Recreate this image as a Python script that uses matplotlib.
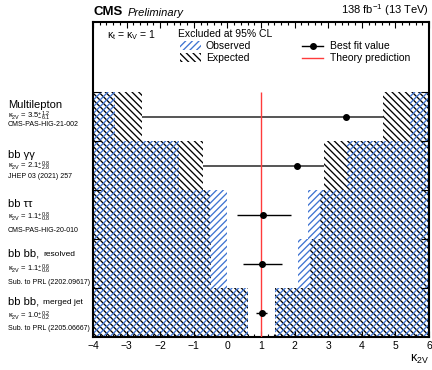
import matplotlib
matplotlib.use('Agg')
import matplotlib.pyplot as plt
from matplotlib.patches import Rectangle
from matplotlib.lines import Line2D
from matplotlib.ticker import MultipleLocator, NullFormatter
import matplotlib.transforms as mtransforms

plt.rcParams['font.family'] = ['Liberation Sans', 'DejaVu Sans']
plt.rcParams['mathtext.fontset'] = 'custom'
plt.rcParams['mathtext.rm'] = 'Liberation Sans'
plt.rcParams['mathtext.it'] = 'Liberation Sans:italic'
plt.rcParams['mathtext.bf'] = 'Liberation Sans:bold'
plt.rcParams['hatch.linewidth'] = 0.95

# ---- data (top row first) ----
analyses = ["Multilepton", "bb γγ", "bb ττ", "bb bb,", "bb bb,"]
subtags = ["", "", "", "resolved", "merged jet"]
kappa_labels = [
    r"κ$_{\mathrm{2V}}$ = 3.5$^{+1.2}_{-6.1}$",
    r"κ$_{\mathrm{2V}}$ = 2.1$^{+0.8}_{-2.8}$",
    r"κ$_{\mathrm{2V}}$ = 1.1$^{+0.8}_{-0.8}$",
    r"κ$_{\mathrm{2V}}$ = 1.1$^{+0.6}_{-0.6}$",
    r"κ$_{\mathrm{2V}}$ = 1.0$^{+0.2}_{-0.2}$",
]
references = ["CMS-PAS-HIG-21-002", "JHEP 03 (2021) 257", "CMS-PAS-HIG-20-010",
              "Sub. to PRL (2202.09617)", "Sub. to PRL (2205.06667)"]
best_fit = [3.52, 2.06, 1.07, 1.04, 1.02]
ci_lo = [-2.55, -0.74, 0.29, 0.47, 0.85]
ci_hi = [4.64, 2.88, 1.88, 1.63, 1.19]
obs_excl_lo = [-3.35, -1.43, 0.0, 0.0, 0.60]
obs_excl_hi = [5.42, 3.57, 2.41, 2.11, 1.42]
exp_excl_lo = [-2.53, -0.74, -0.52, -0.49, 0.60]
exp_excl_hi = [4.64, 2.88, 2.75, 2.46, 1.42]
theory_kappa = 1.0
x_min, x_max = -4, 6
x_ticks = [-4, -3, -2, -1, 0, 1, 2, 3, 4, 5, 6]

# ---- styles / layout ----
blue = '#3f74d2'
err_colors = ['#555555', '#555555', 'black', 'black', 'black']
err_widths = [1.4, 1.4, 1.0, 1.0, 1.0]
title_off = [13, 14, 14, 14, 13]   # pixel offset below row top
kappa_off = [24, 25, 27, 30, 28]
ref_off = [33, 35, 40, 43, 41]

n = len(analyses)
ypos = [n - i - 0.5 for i in range(n)]

fig = plt.figure(figsize=(4.32, 3.70), dpi=100)
ax = fig.add_axes([93 / 432, 33 / 370, 336 / 432, 315 / 370])
ax.set_xlim(x_min, x_max)
ax.set_ylim(0, 315 / 49)

hatch_exp = '\\' * 5
hatch_obs = '/' * 5

# exclusion regions
for i in range(n):
    y = ypos[i]
    ax.barh(y, exp_excl_lo[i] - x_min, left=x_min, height=1.0, color='none',
            edgecolor='black', hatch=hatch_exp, linewidth=0, zorder=1)
    ax.barh(y, x_max - exp_excl_hi[i], left=exp_excl_hi[i], height=1.0, color='none',
            edgecolor='black', hatch=hatch_exp, linewidth=0, zorder=1)
    ax.barh(y, obs_excl_lo[i] - x_min, left=x_min, height=1.0, color='none',
            edgecolor=blue, hatch=hatch_obs, linewidth=0, zorder=1)
    ax.barh(y, x_max - obs_excl_hi[i], left=obs_excl_hi[i], height=1.0, color='none',
            edgecolor=blue, hatch=hatch_obs, linewidth=0, zorder=1)

# best fit with intervals
for i in range(n):
    ax.errorbar(best_fit[i], ypos[i],
                xerr=[[best_fit[i] - ci_lo[i]], [ci_hi[i] - best_fit[i]]],
                fmt='none', ecolor=err_colors[i], elinewidth=err_widths[i], capsize=0, zorder=2)
ax.vlines(theory_kappa, 0, n, color='#ff3b3b', lw=1.0, zorder=3)
ax.plot(best_fit, ypos, 'o', color='black', ms=4, zorder=4, linestyle='none')

# ticks
ax.set_xticks(x_ticks)
ax.set_xticklabels([f"{t}".replace('-', '\u2212') for t in x_ticks], fontsize=7.5)
ax.xaxis.set_minor_locator(MultipleLocator(0.2))
ax.tick_params(axis='x', which='major', direction='in', top=True, bottom=True, length=4.5, width=0.8, pad=3)
ax.tick_params(axis='x', which='minor', direction='in', top=True, bottom=True, length=2.2, width=0.8)
ax.set_yticks([1, 2, 3, 4, 5])
ax.yaxis.set_major_formatter(NullFormatter())
ax.tick_params(axis='y', which='major', direction='in', left=True, right=True, length=5.5, width=0.8)
for s in ax.spines.values():
    s.set_linewidth(1.5)

ax.set_xlabel(r"κ$_{\mathrm{2V}}$", loc='right', fontsize=9, labelpad=1)

# left labels
trans = mtransforms.blended_transform_factory(fig.transFigure, ax.transData)
for i in range(n):
    top = n - i
    ax.annotate(analyses[i], xy=(0, top), xycoords=trans, xytext=(8, -title_off[i]),
                textcoords='offset pixels', va='center', ha='left', fontsize=8)
    if subtags[i]:
        ax.annotate(subtags[i], xy=(0, top), xycoords=trans, xytext=(43, -title_off[i] - 1),
                    textcoords='offset pixels', va='center', ha='left', fontsize=6)
    ax.annotate(kappa_labels[i], xy=(0, top), xycoords=trans, xytext=(8, -kappa_off[i]),
                textcoords='offset pixels', va='center', ha='left', fontsize=5.5)
    ax.annotate(references[i], xy=(0, top), xycoords=trans, xytext=(8, -ref_off[i]),
                textcoords='offset pixels', va='center', ha='left', fontsize=5.0)

# header
ax.text(0.0, 1.014, 'CMS', transform=ax.transAxes, fontsize=9.5, fontweight='bold',
        va='bottom', ha='left')
ax.text(0.104, 1.014, 'Preliminary', transform=ax.transAxes, fontsize=8, style='italic',
        va='bottom', ha='left')
ax.text(1.0, 1.014, r'138 fb$^{-1}$ (13 TeV)', transform=ax.transAxes, fontsize=8,
        va='bottom', ha='right')

# legend
ax.text(0.042, 0.959, 'κ$_{\\mathrm{t}}$ = κ$_{\\mathrm{V}}$ = 1', transform=ax.transAxes,
        fontsize=7.5, va='center', ha='left')
ax.text(0.253, 0.962, 'Excluded at 95% CL', transform=ax.transAxes, fontsize=7.5,
        va='center', ha='left')
ax.add_patch(Rectangle((0.259, 0.911), 0.062, 0.029, transform=ax.transAxes, facecolor='none',
                       edgecolor=blue, hatch=hatch_obs, linewidth=0, clip_on=False))
ax.add_patch(Rectangle((0.259, 0.873), 0.062, 0.030, transform=ax.transAxes, facecolor='none',
                       edgecolor='black', hatch=hatch_exp, linewidth=0, clip_on=False))
ax.text(0.336, 0.925, 'Observed', transform=ax.transAxes, fontsize=7.5, va='center', ha='left')
ax.text(0.336, 0.887, 'Expected', transform=ax.transAxes, fontsize=7.5, va='center', ha='left')
ax.add_line(Line2D([0.622, 0.685], [0.925, 0.925], transform=ax.transAxes, color='black', lw=1.0))
ax.add_line(Line2D([0.6535], [0.925], transform=ax.transAxes, color='black', marker='o', ms=4))
ax.add_line(Line2D([0.622, 0.685], [0.887, 0.887], transform=ax.transAxes, color='#ff3b3b', lw=1.0))
ax.text(0.705, 0.925, 'Best fit value', transform=ax.transAxes, fontsize=7.5, va='center', ha='left')
ax.text(0.705, 0.887, 'Theory prediction', transform=ax.transAxes, fontsize=7.5, va='center', ha='left')

fig.savefig('out.png', dpi=100)
